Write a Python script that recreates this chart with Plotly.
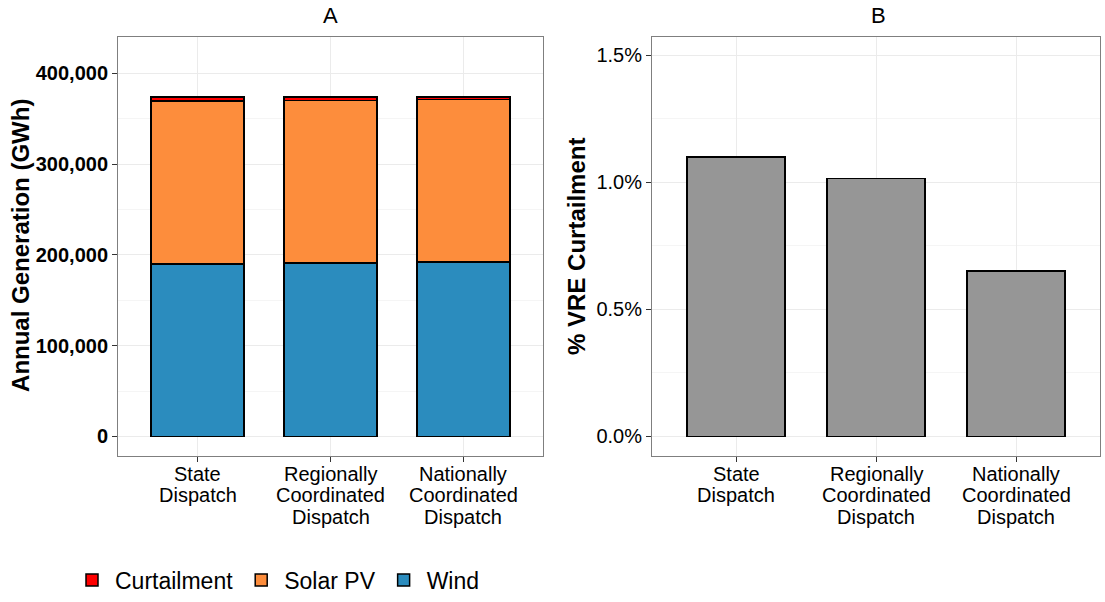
import plotly.graph_objects as go

categories = ["State<br>Dispatch", "Regionally<br>Coordinated<br>Dispatch", "Nationally<br>Coordinated<br>Dispatch"]
wind = [190200, 191300, 191900]
solar_pv = [179400, 178800, 179500]
curtailment = [4100, 3800, 2450]
pct_curtailment = [1.10, 1.015, 0.652]

W, H = 1105, 602
FONT = "Liberation Sans, Arial, sans-serif"

def px_x(p):
    return p / W

def px_y(p):
    return 1 - p / H

fig = go.Figure()
line = dict(color="black", width=1.5)
fig.add_trace(go.Bar(x=categories, y=wind, name="Wind", marker=dict(color="#2b8cbe", line=line),
                     width=0.7, xaxis="x", yaxis="y"))
fig.add_trace(go.Bar(x=categories, y=solar_pv, name="Solar PV", marker=dict(color="#fd8d3c", line=line),
                     width=0.7, xaxis="x", yaxis="y"))
fig.add_trace(go.Bar(x=categories, y=curtailment, name="Curtailment", marker=dict(color="#ff0000", line=line),
                     width=0.7, xaxis="x", yaxis="y"))
fig.add_trace(go.Bar(x=categories, y=pct_curtailment, name="% VRE Curtailment", showlegend=False,
                     marker=dict(color="#969696", line=line), width=0.7, xaxis="x2", yaxis="y2"))

axis_common = dict(showline=True, mirror=True, linecolor="#7f7f7f", linewidth=1,
                   showgrid=True, gridcolor="#ebebeb", gridwidth=1, zeroline=False,
                   ticks="outside", ticklen=5, tickcolor="#333333")

annotations = [
    dict(text="A", x=px_x(330), y=px_y(16), xref="paper", yref="paper", showarrow=False,
         font=dict(size=22), xanchor="center", yanchor="middle"),
    dict(text="B", x=px_x(878), y=px_y(16), xref="paper", yref="paper", showarrow=False,
         font=dict(size=22), xanchor="center", yanchor="middle"),
    dict(text="<b>Annual Generation (GWh)</b>", x=px_x(21), y=px_y(248), xref="paper", yref="paper",
         showarrow=False, textangle=-90, font=dict(size=24), xanchor="center", yanchor="middle"),
    dict(text="<b>% VRE Curtailment</b>", x=px_x(577), y=px_y(249), xref="paper", yref="paper",
         showarrow=False, textangle=-90, font=dict(size=24), xanchor="center", yanchor="middle"),
]
# category labels drawn line by line (tighter line spacing than plotly tick labels)
for xref in ("x", "x2"):
    for cat in categories:
        for i, part in enumerate(cat.split("<br>")):
            annotations.append(dict(text=part, x=cat, xref=xref, y=px_y(478 + 21.5 * i), yref="paper",
                                    showarrow=False, font=dict(size=20), xanchor="center",
                                    yanchor="middle"))

fig.update_layout(
    width=W, height=H, autosize=False,
    margin=dict(l=0, r=0, t=0, b=0),
    plot_bgcolor="white", paper_bgcolor="white",
    barmode="stack",
    font=dict(family=FONT, color="black"),
    xaxis=dict(domain=[px_x(118), px_x(543)], anchor="y", type="category", range=[-0.6, 2.6],
               showticklabels=False, **axis_common),
    yaxis=dict(domain=[px_y(460), px_y(37)], anchor="x", range=[-21800, 440400],
               tickformat=",", dtick=100000, tickfont=dict(size=20, family=FONT, weight="bold"),
               minor=dict(showgrid=True, dtick=50000, gridcolor="#f5f5f5"), **axis_common),
    xaxis2=dict(domain=[px_x(652), px_x(1100)], anchor="y2", type="category", range=[-0.6, 2.6],
                showticklabels=False, **axis_common),
    yaxis2=dict(domain=[px_y(460), px_y(37)], anchor="x2", range=[-0.078, 1.574],
                dtick=0.5, tickformat=".1f", ticksuffix="%", tickfont=dict(size=20),
                minor=dict(showgrid=True, dtick=0.25, gridcolor="#f5f5f5"), **axis_common),
    legend=dict(orientation="h", traceorder="reversed", x=px_x(69), y=px_y(585), yanchor="middle",
                xanchor="left", font=dict(size=23), bgcolor="rgba(0,0,0,0)", itemwidth=36),
    annotations=annotations,
)

fig.write_html("out.html", config={"displayModeBar": False, "responsive": False},
               post_script="document.body.style.margin='0px';document.body.style.overflow='hidden';"
                           "document.documentElement.style.overflow='hidden';")
